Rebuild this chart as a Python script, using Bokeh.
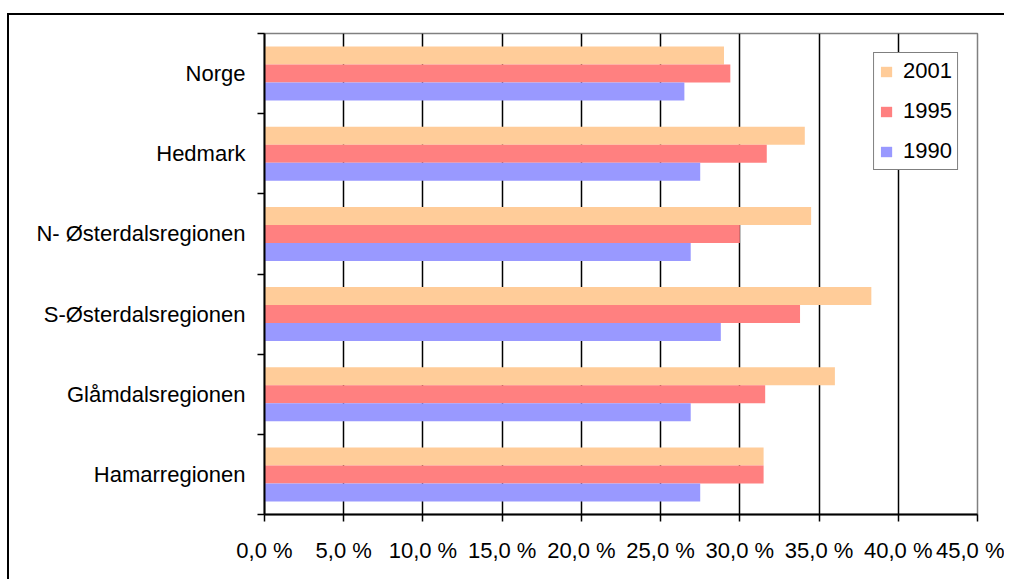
from bokeh.plotting import figure
from bokeh.models import ColumnDataSource, Range1d, FixedTicker, InlineStyleSheet
from bokeh.transform import dodge
from bokeh.embed import file_html
from bokeh.resources import INLINE

# ---- data (categories listed top to bottom) ----
categories = ["Norge", "Hedmark", "N- Østerdalsregionen", "S-Østerdalsregionen",
              "Glåmdalsregionen", "Hamarregionen"]
years = ["2001", "1995", "1990"]
v2001 = [29.0, 34.1, 34.5, 38.3, 36.0, 31.5]
v1995 = [29.4, 31.7, 30.0, 33.8, 31.6, 31.5]
v1990 = [26.5, 27.5, 26.9, 28.8, 26.9, 27.5]
x_ticks = [0, 5, 10, 15, 20, 25, 30, 35, 40, 45]
x_tick_labels = ["0,0 %", "5,0 %", "10,0 %", "15,0 %", "20,0 %", "25,0 %",
                 "30,0 %", "35,0 %", "40,0 %", "45,0 %"]

colors = ["#FFCC99", "#FF8080", "#9999FF"]
FONT = "Liberation Sans"

n = len(categories)
ypos = [n - 1 - i + 0.5 for i in range(n)]
src = ColumnDataSource(dict(y=ypos, v2001=v2001, v1995=v1995, v1990=v1990))

p = figure(width=1004, height=579,
           x_range=Range1d(0, 45), y_range=Range1d(0, n),
           output_backend="svg", toolbar_location=None,
           min_border_left=264, min_border_top=33,
           min_border_right=27, min_border_bottom=65)
p.background_fill_color = "white"
p.border_fill_color = "white"
p.outline_line_color = "#808080"
p.outline_line_width = 1.5

bar_h = 0.2245
offsets = [bar_h, 0.0, -bar_h]
for yr, col, off, c in zip(years, ["v2001", "v1995", "v1990"], offsets, colors):
    p.hbar(y=dodge("y", off), left=0, right=col, height=bar_h, source=src,
           fill_color=c, line_color=None, legend_label=yr)

# x axis
p.xaxis.ticker = FixedTicker(ticks=x_ticks, minor_ticks=[])
p.xaxis.major_label_overrides = {t: l for t, l in zip(x_ticks, x_tick_labels)}
p.xaxis.axis_line_color = "black"
p.xaxis.axis_line_width = 2
p.xaxis.major_tick_line_color = "black"
p.xaxis.major_tick_line_width = 1.5
p.xaxis.major_tick_out = 7
p.xaxis.major_tick_in = 0
p.xaxis.major_label_standoff = 16
p.xaxis.major_label_text_font = FONT
p.xaxis.major_label_text_font_size = "22px"
p.xaxis.major_label_text_color = "black"

# y axis: labels at band centres, ticks at band boundaries
p.yaxis.ticker = FixedTicker(ticks=ypos, minor_ticks=list(range(n + 1)))
p.yaxis.major_label_overrides = {y: c for y, c in zip(ypos, categories)}
p.yaxis.axis_line_color = "black"
p.yaxis.axis_line_width = 2
p.yaxis.major_tick_line_color = None
p.yaxis.major_tick_out = 0
p.yaxis.major_tick_in = 0
p.yaxis.minor_tick_line_color = "black"
p.yaxis.minor_tick_line_width = 1.5
p.yaxis.minor_tick_out = 7
p.yaxis.minor_tick_in = 0
p.yaxis.major_label_standoff = 12
p.yaxis.major_label_text_font = FONT
p.yaxis.major_label_text_font_size = "22px"
p.yaxis.major_label_text_color = "black"

# grid
p.xgrid.ticker = FixedTicker(ticks=x_ticks, minor_ticks=[])
p.xgrid.grid_line_color = "black"
p.xgrid.grid_line_width = 1.5
p.ygrid.grid_line_color = None

# legend
lg = p.legend[0]
lg.location = "top_right"
lg.margin = 19
lg.border_line_color = "black"
lg.border_line_width = 1.5
lg.background_fill_color = "white"
lg.background_fill_alpha = 1.0
lg.padding = 5
lg.spacing = 14
lg.glyph_width = 14
lg.glyph_height = 13
lg.label_standoff = 10
lg.label_text_font = FONT
lg.label_text_font_size = "22px"
lg.label_text_color = "black"

# outer chart-area border (left and top edges; the rest runs off the page)
p.stylesheets = [InlineStyleSheet(css="""
:host { position: relative; }
:host::after {
  content: "";
  position: absolute;
  left: 7px; top: 13px;
  width: 997px; height: 566px;
  border-left: 2px solid black;
  border-top: 2px solid black;
  box-sizing: border-box;
  pointer-events: none;
  z-index: 10;
}
""")]

open("out.html", "w").write(file_html(p, INLINE))
